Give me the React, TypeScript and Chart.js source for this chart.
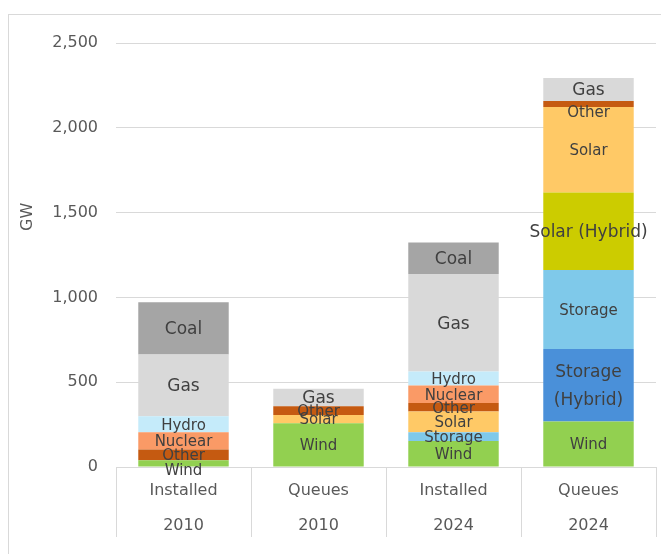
import React, { useEffect, useRef } from 'react';
import { Chart, registerables } from 'chart.js';

Chart.register(...registerables);

// ---- Data ----
const categories: string[][] = [
  ['Installed', '2010'],
  ['Queues', '2010'],
  ['Installed', '2024'],
  ['Queues', '2024'],
];
const yTicks = [0, 500, 1000, 1500, 2000, 2500];
const wind = [40, 258, 153, 269];
const storageHybrid = [0, 0, 0, 427];
const storage = [0, 0, 52, 466];
const solarHybrid = [0, 0, 0, 456];
const solar = [0, 49, 122, 505];
const other = [63, 51, 50, 35];
const nuclear = [102, 0, 103, 0];
const hydro = [94, 0, 83, 0];
const gas = [365, 103, 575, 136];
const coal = [307, 0, 185, 0];

// ---- Styles ----
const FONT = '"DejaVu Sans", Verdana, sans-serif';
const series = [
  { label: 'Wind', data: wind, color: '#92D050', size: 15 },
  { label: 'Storage (Hybrid)', data: storageHybrid, color: '#4A90D9', size: 17 },
  { label: 'Storage', data: storage, color: '#7FC9EA', size: 15 },
  { label: 'Solar (Hybrid)', data: solarHybrid, color: '#CCCC00', size: 17 },
  { label: 'Solar', data: solar, color: '#FFC966', size: 15 },
  { label: 'Other', data: other, color: '#C55A11', size: 15 },
  { label: 'Nuclear', data: nuclear, color: '#FA9A66', size: 15 },
  { label: 'Hydro', data: hydro, color: '#C5EBFA', size: 15 },
  { label: 'Gas', data: gas, color: '#D9D9D9', size: 17 },
  { label: 'Coal', data: coal, color: '#A5A5A5', size: 17 },
];
// label nudges (pixels, downward) for crowded segments
const labelNudge: Record<string, number> = { 'Wind-0': 6, 'Other-3': 8 };

const labelPlugin = {
  id: 'segLabels',
  afterDatasetsDraw(chart: any) {
    const ctx = chart.ctx as CanvasRenderingContext2D;
    ctx.save();
    ctx.fillStyle = '#404040';
    ctx.textAlign = 'center';
    ctx.textBaseline = 'middle';
    chart.data.datasets.forEach((ds: any, i: number) => {
      const meta = chart.getDatasetMeta(i);
      const size = series[i].size;
      const lines =
        ds.label === 'Storage (Hybrid)' ? ['Storage', '(Hybrid)'] : [ds.label];
      ctx.font = `${size}px ${FONT}`;
      meta.data.forEach((el: any, j: number) => {
        const v = ds.data[j];
        if (!v) return;
        const { x, y, base } = el.getProps(['x', 'y', 'base'], true);
        const cy = (y + base) / 2 + 1.5 + (labelNudge[`${ds.label}-${j}`] || 0);
        const lh = 28;
        lines.forEach((t: string, k: number) =>
          ctx.fillText(t, x, cy + (k - (lines.length - 1) / 2) * lh)
        );
      });
    });
    // Y axis title
    const area = chart.chartArea;
    ctx.save();
    ctx.translate(area.left - 88, area.top + (area.bottom - area.top) * 0.41);
    ctx.rotate(-Math.PI / 2);
    ctx.fillStyle = '#595959';
    ctx.font = `16px ${FONT}`;
    ctx.fillText('GW', 0, 0);
    ctx.restore();
    ctx.restore();
  },
};

export default function App() {
  const ref = useRef<HTMLCanvasElement>(null);
  useEffect(() => {
    const chart = new Chart(ref.current as HTMLCanvasElement, {
      type: 'bar',
      data: {
        labels: categories as any,
        datasets: series.map((s) => ({
          label: s.label,
          data: s.data,
          backgroundColor: s.color,
          borderWidth: 0,
          barPercentage: 0.67,
          categoryPercentage: 1,
        })),
      },
      options: {
        responsive: false,
        animation: false,
        layout: { padding: { left: 0, right: 5, top: 28, bottom: 0 } },
        plugins: {
          legend: { display: false },
          tooltip: { enabled: false },
        },
        scales: {
          x: {
            stacked: true,
            offset: true,
            grid: {
              display: true,
              offset: true,
              drawOnChartArea: false,
              drawTicks: true,
              tickLength: 70,
              color: '#D9D9D9',
              lineWidth: 1,
            },
            border: { display: true, color: '#D9D9D9' },
            ticks: {
              color: '#595959',
              font: { family: FONT, size: 16, lineHeight: 35 / 16 },
              padding: -63.5,
              maxRotation: 0,
              autoSkip: false,
            },
            afterFit: (scale: any) => {
              scale.height = 87;
            },
          } as any,
          y: {
            stacked: true,
            min: 0,
            max: 2500,
            afterBuildTicks: (scale: any) => {
              scale.ticks = yTicks.map((v) => ({ value: v }));
            },
            grid: { color: '#D9D9D9', drawTicks: false, lineWidth: 1 },
            border: { display: false },
            ticks: {
              color: '#595959',
              font: { family: FONT, size: 16 },
              padding: 18,
              callback: (v: any) => Number(v).toLocaleString('en-US'),
            },
            afterFit: (scale: any) => {
              scale.width = 107;
            },
          } as any,
        },
      },
      plugins: [labelPlugin],
    });
    return () => chart.destroy();
  }, []);

  return (
    <div
      style={{
        position: 'fixed',
        left: 8,
        top: 14,
        width: 653,
        height: 540,
        boxSizing: 'border-box',
        borderTop: '1px solid #D9D9D9',
        borderLeft: '1px solid #D9D9D9',
        background: '#fff',
      }}
    >
      <canvas
        ref={ref}
        width={652}
        height={539}
        style={{ display: 'block', width: 652, height: 539 }}
      />
    </div>
  );
}
